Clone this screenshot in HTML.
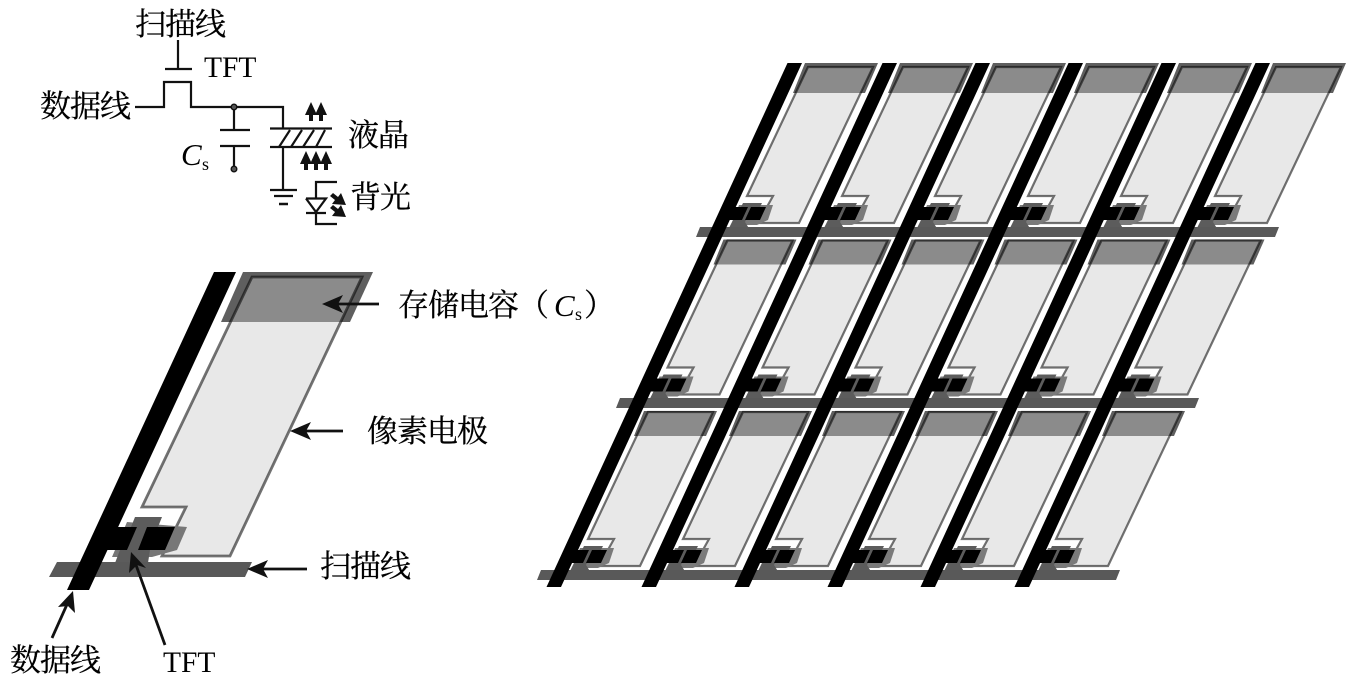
<!DOCTYPE html>
<html><head><meta charset="utf-8">
<style>
html,body{margin:0;padding:0;background:#fff;width:1359px;height:684px;overflow:hidden}
svg{display:block;filter:blur(.35px)}
text{font-family:"Liberation Serif","Noto Serif CJK SC",serif;fill:#000}
.c{font-size:31px;letter-spacing:-1px;stroke:#000;stroke-width:.25px}
.l{font-size:29.500px}
.i{font-size:31px;font-style:italic}
.s{font-size:18px}
.w{stroke:#111;stroke-width:2.200;fill:none}
</style></head>
<body>
<svg width="1359" height="684" viewBox="0 0 1359 684" xmlns="http://www.w3.org/2000/svg">
<defs>
<g id="top">
  <polygon points="805,63 878,63 865,93 793,93" fill="#5f5f5f"/>
  <polygon points="808,67 873,67 799,223 758,223 773,196 747,196" fill="#c8c8c8" fill-opacity=".42" stroke="#000" stroke-opacity=".55" stroke-width="2.200"/>
</g>
<g id="sub">
  <polygon points="803,68 876,68 865,93 793,93" fill="#5f5f5f"/>
  <polygon points="807,69 872,69 799,223 758,223 773,196 747,196" fill="#c8c8c8" fill-opacity=".42" stroke="#000" stroke-opacity=".55" stroke-width="2.200"/>
</g>
<g id="tft">
  <polygon points="739,205 773,205 768,220 757,225 731,225" fill="#7a7a7a"/>
  <polygon points="743,203 762,203 760,207 752,207 745,222 750,230 728,230 733,220 741,207" fill="#5c5c5c"/>
  <polygon points="730,207 748,207 742,220 724,220" fill="#000"/>
  <polygon points="751,207 766,207 760,220 745,220" fill="#000"/>
</g>
<g id="cellT"><use href="#top"/><use href="#tft"/></g>
<g id="cellS"><use href="#sub"/><use href="#tft"/></g>
<g id="data"><polygon points="787.500,63 802,63 561,587 546.500,587" fill="#000"/></g>
</defs>

<!-- array row 1 -->
<use href="#cellT" x="0" y="0"/><use href="#cellT" x="95" y="0"/><use href="#cellT" x="188" y="0"/><use href="#cellT" x="281" y="0"/><use href="#cellT" x="374" y="0"/><use href="#cellT" x="468" y="0"/>
<!-- array row 2 -->
<use href="#cellS" x="-79.5" y="171.5"/><use href="#cellS" x="15.5" y="171.5"/><use href="#cellS" x="108.5" y="171.5"/><use href="#cellS" x="201.5" y="171.5"/><use href="#cellS" x="294.5" y="171.5"/><use href="#cellS" x="388.5" y="171.5"/>
<!-- array row 3 -->
<use href="#cellS" x="-159" y="343"/><use href="#cellS" x="-64" y="343"/><use href="#cellS" x="29" y="343"/><use href="#cellS" x="122" y="343"/><use href="#cellS" x="215" y="343"/><use href="#cellS" x="309" y="343"/>
<!-- scan lines -->
<polygon points="700,227 1279,227 1275,237 696,237" fill="#595959"/>
<polygon points="620,398 1199,398 1195,408 616,408" fill="#595959"/>
<polygon points="541,570 1120,570 1116,580 537,580" fill="#595959"/>
<!-- data lines -->
<use href="#data" x="0"/><use href="#data" x="95"/><use href="#data" x="188"/><use href="#data" x="281"/><use href="#data" x="374"/><use href="#data" x="468"/>

<!-- single pixel -->
<polygon points="243,272 373,272 350,322 221,322" fill="#5f5f5f"/>
<polygon points="252,277 362,277 230,556 162,556 186,507 142,507" fill="#c8c8c8" fill-opacity=".42" stroke="#000" stroke-opacity=".55" stroke-width="2.800"/>
<polygon points="127,522 187,527 177,550 152,557 112,557" fill="#777"/>
<polygon points="135,517 162,517 158,527 147,527 138,550 150,550 148,563 115,563 120,550 127,550 137,527 131,527" fill="#5c5c5c"/>
<polygon points="57,562 252,562 245,577 49,577" fill="#595959"/>
<polygon points="214,272 236,272 89,590 67,590" fill="#000"/>
<polygon points="100,527 137,527 127,550 90,550" fill="#000"/>
<polygon points="147,527 175,527 165,550 138,550" fill="#000"/>

<!-- callout arrows -->
<g stroke="#111" stroke-width="2.800" fill="none">
  <line x1="379" y1="304" x2="335" y2="304"/>
  <line x1="343" y1="431" x2="303" y2="431"/>
  <line x1="307" y1="569" x2="260" y2="569"/>
  <line x1="52" y1="638" x2="69" y2="600"/>
  <line x1="165" y1="645" x2="136" y2="565"/>
</g>
<g fill="#111">
  <polygon points="322,304 343,295 338,304 343,313"/>
  <polygon points="290,431 311,422 306,431 311,440"/>
  <polygon points="247,569 268,560 263,569 268,578"/>
  <polygon points="73,591 75,613 68,606 58,607"/>
  <polygon points="131,552 146,568 137,565 129,573"/>
</g>

<!-- circuit -->
<g class="w">
  <path d="M178 40V69M165 69H192"/>
  <path d="M135 107H164V82H191V107H283V128"/>
  <path d="M234 107V129M220 130H250M220 146H250M234 146V168"/>
  <path d="M270 128.500H332M270 147H332"/>
  <path d="M279 147L290 130M291 147L302 130M303 147L314 130M316 147L325 130"/>
  <path d="M283 147V190M270 190H297M274 196H293"/>
  <path d="M279 204H288" stroke-width="2.500"/>
  <path d="M337 182H316V199M306 198.500H326L316 212L306 198.500M306 213H326M316 213V224H337"/>
</g>
<circle cx="234" cy="107" r="2.800" fill="#555" stroke="#111" stroke-width="1.400"/>
<circle cx="234" cy="169" r="2.800" fill="#555" stroke="#111" stroke-width="1.400"/>
<g fill="#111">
  <path d="M311 102l6 13h-4v6h-4v-6h-4zM321 102l6 13h-4v6h-4v-6h-4z"/>
  <path d="M306 151l6 13h-4v6h-4v-6h-4zM316 151l6 13h-4v6h-4v-6h-4zM326 151l6 13h-4v6h-4v-6h-4z"/>
  <path d="M346 205l-14-1 3-4-5-4 3-3 5 4 3-4zM346 217l-14-1 3-4-5-4 3-3 5 4 3-4z"/>
</g>

<!-- labels -->
<text class="c" x="135" y="35">扫描线</text>
<text class="l" x="204" y="77">TFT</text>
<text class="c" x="40" y="117">数据线</text>
<text class="c" x="348" y="146">液晶</text>
<text class="c" x="350" y="208">背光</text>
<text class="i" x="181" y="165">C</text>
<text class="s" x="202" y="170">s</text>
<text class="c" x="398" y="316">存储电容</text>
<text class="c" x="518" y="316">（</text>
<text class="i" x="554" y="316">C</text>
<text class="s" x="575" y="320">s</text>
<text class="c" x="584" y="316">）</text>
<text class="c" x="367" y="442">像素电极</text>
<text class="c" x="320" y="577">扫描线</text>
<text class="c" x="10" y="671">数据线</text>
<text class="l" x="163" y="672">TFT</text>
</svg>
</body></html>
